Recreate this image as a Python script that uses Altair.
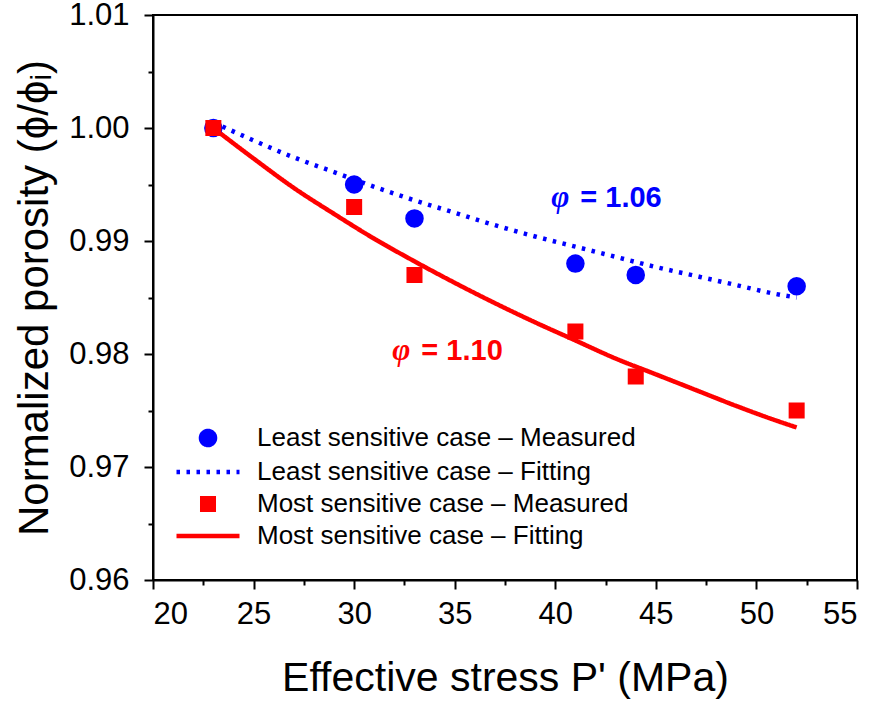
import altair as alt
import pandas as pd

# ---------------- data ----------------
series_names = [
    "Least sensitive case – Measured",
    "Least sensitive case – Fitting",
    "Most sensitive case – Measured",
    "Most sensitive case – Fitting",
]
series_colors = ["#0000FF", "#0000FF", "#FF0000", "#FF0000"]

measured_p = [23, 30, 33, 41, 44, 52]
least_measured = [1.000, 0.995, 0.992, 0.988, 0.987, 0.986]
most_measured = [1.000, 0.993, 0.987, 0.982, 0.978, 0.975]

fit_p = [23, 25, 27, 29, 31, 33, 35, 37, 39, 41, 43, 45, 47, 49, 51, 52]
least_fit = [1.0005, 0.9989, 0.9974, 0.9961, 0.9948, 0.9936, 0.9925, 0.9914,
             0.9904, 0.9895, 0.9886, 0.9877, 0.9869, 0.9861, 0.9853, 0.9850]
most_fit = [1.0000, 0.9973, 0.9947, 0.9924, 0.9902, 0.9882, 0.9863, 0.9845,
            0.9828, 0.9812, 0.9796, 0.9782, 0.9768, 0.9754, 0.9741, 0.9735]

x_major = [20, 25, 30, 35, 40, 45, 50, 55]
x_minor = [22.5, 27.5, 32.5, 37.5, 42.5, 47.5, 52.5]
y_major = [0.96, 0.97, 0.98, 0.99, 1.00, 1.01]
y_minor = [0.965, 0.975, 0.985, 0.995, 1.005]

ann_symbol = ["φ", "φ"]
ann_value = ["= 1.06", "= 1.10"]
ann_x = [39.8, 31.9]
ann_y = [0.9930, 0.9795]
ann_color = ["#0000FF", "#FF0000"]

# ---------------- tables ----------------
pts = pd.DataFrame({
    "P": measured_p * 2,
    "phi": least_measured + most_measured,
    "series": [series_names[0]] * len(measured_p) + [series_names[2]] * len(measured_p),
})
fits = pd.DataFrame({
    "P": fit_p * 2,
    "phi": least_fit + most_fit,
    "series": [series_names[1]] * len(fit_p) + [series_names[3]] * len(fit_p),
})
ann = pd.DataFrame({"sym": ann_symbol, "val": ann_value, "x": ann_x, "y": ann_y, "c": ann_color})

FONT = "Liberation Sans"
SW = 4.5

xscale = alt.Scale(domain=[20, 55], nice=False, zero=False)
yscale = alt.Scale(domain=[0.96, 1.01], nice=False, zero=False)
color_scale = alt.Scale(domain=series_names, range=series_colors)
shape_scale = alt.Scale(
    domain=series_names,
    range=[
        "M0.78,0A0.78,0.78,0,1,1,-0.78,0A0.78,0.78,0,1,1,0.78,0Z",
        "M-3.5,0H3.5",
        "M-0.64,-0.64H0.64V0.64H-0.64Z",
        "M-3.5,0H3.5",
    ],
)
dash_scale = alt.Scale(domain=series_names, range=[[1, 0], [3.5, 6.5], [1, 0], [1, 0]])

x_major_axis = alt.Axis(
    values=x_major, title="Effective stress P' (MPa)", format="d",
    labelFontSize=31, titleFontSize=41, titleFontWeight="normal",
    labelFont=FONT, titleFont=FONT, labelColor="black", titleColor="black",
    tickSize=9, tickWidth=2, tickColor="black", domainColor="black", domainWidth=2,
    labelPadding=10, titlePadding=29, grid=False, orient="bottom",
)
y_major_axis = alt.Axis(
    values=y_major, title="Normalized porosity (ϕ/ϕᵢ)", format=".2f",
    labelFontSize=31, titleFontSize=42, titleFontWeight="normal",
    labelFont=FONT, titleFont=FONT, labelColor="black", titleColor="black",
    tickSize=9, tickWidth=2, tickColor="black", domainColor="black", domainWidth=2,
    labelPadding=15, titlePadding=12, grid=False, orient="left",
)
x_minor_axis = alt.Axis(values=x_minor, labels=False, title=None, tickSize=5, tickWidth=2,
                        tickColor="black", domain=False, grid=False, orient="bottom")
y_minor_axis = alt.Axis(values=y_minor, labels=False, title=None, tickSize=5, tickWidth=2,
                        tickColor="black", domain=False, grid=False, orient="left")

legend = alt.Legend(
    title=None, orient="none", legendX=42, legendY=410, padding=0,
    labelFontSize=26, labelFont=FONT, labelColor="black", labelOffset=36,
    symbolSize=324, symbolStrokeWidth=SW, symbolOpacity=1, rowPadding=4, labelLimit=600,
)

lines = alt.Chart(fits).mark_line(strokeWidth=SW, strokeCap="butt", interpolate="monotone").encode(
    x=alt.X("P:Q", scale=xscale, axis=x_major_axis),
    y=alt.Y("phi:Q", scale=yscale, axis=y_major_axis),
    color=alt.Color("series:N", scale=color_scale, legend=legend),
    strokeDash=alt.StrokeDash("series:N", scale=dash_scale, legend=legend),
    detail="series:N",
)

points = alt.Chart(pts).mark_point(filled=True, size=324, opacity=1, strokeWidth=SW).encode(
    x=alt.X("P:Q", scale=xscale, axis=x_minor_axis),
    y=alt.Y("phi:Q", scale=yscale, axis=y_minor_axis),
    color=alt.Color("series:N", scale=color_scale, legend=legend),
    stroke=alt.Stroke("series:N", scale=color_scale, legend=legend),
    shape=alt.Shape("series:N", scale=shape_scale, legend=legend),
)

ann_sym = alt.Chart(ann).mark_text(
    font="Liberation Serif", fontSize=31, fontWeight="bold", fontStyle="italic",
    align="left", baseline="alphabetic",
).encode(
    x=alt.X("x:Q", scale=xscale, axis=None),
    y=alt.Y("y:Q", scale=yscale, axis=None),
    text="sym:N",
    color=alt.Color("c:N", scale=None),
)
ann_val = alt.Chart(ann).mark_text(
    font=FONT, fontSize=29, fontWeight="bold", align="left", baseline="alphabetic", dx=29,
).encode(
    x=alt.X("x:Q", scale=xscale, axis=None),
    y=alt.Y("y:Q", scale=yscale, axis=None),
    text="val:N",
    color=alt.Color("c:N", scale=None),
)

chart = alt.layer(lines, points, ann_sym, ann_val).resolve_axis(
    x="independent", y="independent"
).properties(
    width=704, height=565,
    autosize=alt.AutoSizeParams(type="none"),
    padding={"left": 153, "top": 15, "right": 21, "bottom": 122},
    background="white",
).configure_view(stroke="black", strokeWidth=2)

chart.save("out.html", embed_options={"renderer": "svg", "actions": False})
